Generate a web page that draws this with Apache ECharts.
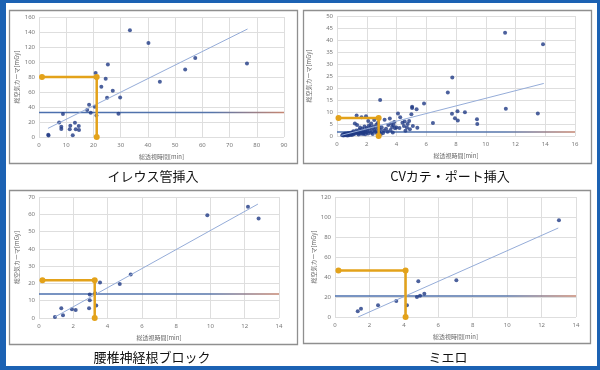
<!DOCTYPE html>
<html><head><meta charset="utf-8">
<script src="https://cdn.jsdelivr.net/npm/echarts@6/dist/echarts.min.js"></script>
<style>html,body{margin:0;padding:0;background:#fff}#c{width:600px;height:370px}</style>
</head><body><div id="c"></div>
<script>
// ---------- data ----------
const titles = ['イレウス管挿入', 'CVカテ・ポート挿入', '腰椎神経根ブロック', 'ミエロ'];
const xName = '総透視時間[min]';
const yName = '総空気カーマ[mGy]';
const xMax = [90, 16, 14, 14];
const xStep = [10, 2, 2, 2];
const yMax = [160, 50, 70, 120];
const yStep = [20, 5, 10, 20];

const ileusPts = [[3.4,3],[3.5,2],[7.4,19.5],[8.2,13.7],[8.2,10.6],[8.8,30.6],[11.3,10.2],[11.5,15],[12.4,2.2],[13.2,19],[13.5,10.2],[14.6,14.6],[14.7,9.3],[17.7,35.9],[18.4,43],[19,32.4],[20.5,40.3],[20.8,85.5],[21.1,78.9],[21.1,28.8],[22.9,67],[24.5,77.6],[25,52.3],[25.3,96.6],[27.1,61.6],[29.2,31],[29.8,52.7],[33.4,142.3],[40.2,125.4],[44.4,73.6],[53.7,90],[57.4,105.5],[76.4,98]];
const cvPts = [[0.35,0.3],[0.4,0.6],[0.45,0.2],[0.5,0.9],[0.5,0.4],[0.55,0.7],[0.6,0.3],[0.6,1.0],[0.65,0.5],[0.7,0.8],[0.7,0.2],[0.75,1.2],[0.8,0.6],[0.8,0.3],[0.85,0.9],[0.9,1.4],[0.9,0.5],[0.95,0.8],[1.0,1.1],[1.0,0.4],
[1.05,1.6],[1.1,0.7],[1.1,2.0],[1.15,1.2],[1.2,5.2],[1.2,0.9],[1.25,1.5],[1.3,2.3],[1.32,8.5],[1.35,4.6],[1.4,1.0],[1.4,1.8],[1.45,0.6],[1.5,2.6],[1.5,1.3],[1.55,3.5],[1.6,0.9],[1.6,2.0],[1.65,7.8],[1.7,1.5],[1.7,3.0],[1.75,0.8],[1.8,2.4],[1.8,1.2],[1.85,4.0],[1.9,2.0],[1.9,0.7],[1.95,8.2],[2.0,3.3],[2.0,1.6],
[2.05,2.8],[2.1,1.0],[2.1,6.2],[2.15,4.4],[2.2,2.2],[2.25,3.7],[2.3,1.4],[2.3,5.2],[2.35,2.9],[2.4,0.8],[2.45,4.0],[2.5,2.5],[2.5,6.7],[2.55,1.8],[2.6,3.4],[2.65,4.8],[2.7,2.1],[2.7,1.0],[2.75,5.5],[2.8,3.0],[2.8,4.2],[2.85,1.5],[2.9,15.0],[2.9,2.5],[2.95,0.8],[3.0,3.6],
[3.1,1.2],[3.15,2.3],[3.2,6.8],[3.3,3.0],[3.4,1.8],[3.45,4.6],[3.55,7.3],[3.6,2.5],[3.65,5.2],[3.7,3.8],[3.75,1.5],[3.8,4.5],[3.85,5.8],[3.9,3.2],[4.0,3.5],
[4.1,9.4],[4.2,3.3],[4.25,7.8],[4.4,5.5],[4.5,4.2],[4.55,6.0],[4.6,2.2],[4.7,3.5],[4.75,5.0],[4.85,6.3],[4.9,2.8],[5.0,9.1],[5.05,12.2],[5.05,11.7],[5.1,4.2],[5.35,11.1],[5.4,3.4],[5.85,13.5],
[6.45,5.4],[7.45,18.1],[7.75,24.4],[7.73,9.3],[8.1,10.3],[8.6,9.9],[7.93,7.4],[8.12,6.5],[9.41,7.0],[9.43,5.0],[11.3,43.0],[11.35,11.4],[13.5,9.4],[13.85,38.2]];
const lumbarPts = [[0.93,0.6],[1.3,5.6],[1.4,1.6],[1.92,5.0],[2.14,4.7],[2.92,5.6],[2.96,10.3],[2.96,13.6],[3.27,14.3],[3.34,7.2],[3.56,20.6],[4.71,19.6],[5.35,25.2],[9.82,59.5],[12.19,64.4],[12.81,57.6]];
const myeloPts = [[1.32,5.7],[1.51,8.3],[2.5,11.7],[3.56,16],[4.18,11.7],[4.76,20],[4.84,35.7],[4.94,21.3],[5.19,23.3],[7.05,36.7],[13.01,96.7]];

// trendline endpoints [[x1,y1],[x2,y2]]
const trendLines = [[[3.3,11.5],[76.6,144]], [[0.3,0.3],[13.9,21.9]], [[0.93,0.6],[12.77,65.9]], [[1.34,0],[12.97,89]]];
// horizontal reference level
const refLevels = [32.6, 1.7, 13.9, 21];
// gold guide: [xStart, level, xCorner]
const guides = [[1.1,80,21.2], [0.1,7.5,2.8], [0.2,21.8,3.25], [0.2,46.5,4.1]];

// ---------- layout ----------
const grids = [
  {left:39, top:17, width:245, height:120},
  {left:337, top:16, width:238, height:120},
  {left:39, top:197, width:240, height:121},
  {left:335, top:197, width:241, height:120}
];
const yNameGap = [19, 25, 19, 4];
const boxes = [[9,10,288,153],[303,10,288,153],[9,190,288,154],[303,190,287,153]];
const titlePos = [[153,176],[450,176],[152,357],[448,357]];
const pointSets = [ileusPts, cvPts, lumbarPts, myeloPts];

const navy = '#1f3a85', gold = '#e3a21a', border = '#1c62b3';
const graphic = [
  {type:'rect', shape:{x:0,y:0,width:6,height:370}, style:{fill:border}},
  {type:'rect', shape:{x:0,y:0,width:600,height:3}, style:{fill:border}},
  {type:'rect', shape:{x:597,y:0,width:3,height:370}, style:{fill:border}},
  {type:'rect', shape:{x:0,y:366,width:600,height:4}, style:{fill:border}}
];
boxes.forEach(b => graphic.push({type:'rect', shape:{x:b[0]+0.5,y:b[1]+0.5,width:b[2],height:b[3]}, style:{fill:'none', stroke:'#8f8f8f', lineWidth:1.3}}));
titles.forEach((t,i) => graphic.push({type:'text', x:titlePos[i][0], y:titlePos[i][1], style:{text:t, align:'center', verticalAlign:'middle', font:'13px "Noto Sans CJK JP"', fill:'#111'}}));

const xAxis = [], yAxis = [], series = [];
for (let i = 0; i < 4; i++) {
  xAxis.push({type:'value', gridIndex:i, min:0, max:xMax[i], interval:xStep[i],
    name:xName, nameLocation:'middle', nameGap:17,
    nameTextStyle:{fontSize:6, color:'#666', fontFamily:'Noto Sans CJK JP'},
    axisLine:{show:false}, axisTick:{show:false},
    axisLabel:{fontSize:6, color:'#777', margin:5},
    splitLine:{show:true, lineStyle:{color:'#dedede', width:1}}});
  yAxis.push({type:'value', gridIndex:i, min:0, max:yMax[i], interval:yStep[i],
    name:yName, nameLocation:'middle', nameGap:yNameGap[i],
    nameTextStyle:{fontSize:6, color:'#666', fontFamily:'Noto Sans CJK JP'},
    axisLine:{show:false}, axisTick:{show:false},
    axisLabel:{fontSize:6, color:'#777', margin:4},
    splitLine:{show:true, lineStyle:{color:'#dedede', width:1}}});
  series.push({type:'line', xAxisIndex:i, yAxisIndex:i, data:[[0,refLevels[i]],[xMax[i],refLevels[i]]],
    symbol:'none', silent:true, z:3,
    lineStyle:{width:1.5, color:new echarts.graphic.LinearGradient(0,0,1,0,[{offset:0,color:'#4a6fae'},{offset:0.7,color:'#5675aa'},{offset:1,color:'#c9866f'}])}});
  series.push({type:'scatter', xAxisIndex:i, yAxisIndex:i, data:pointSets[i], symbol:'circle', symbolSize:4,
    itemStyle:{color:navy}, z:4});
  series.push({type:'line', xAxisIndex:i, yAxisIndex:i, data:trendLines[i], symbol:'none', silent:true, z:5,
    lineStyle:{width:1, color:'#95acd8'}});
  const g = guides[i];
  series.push({type:'line', xAxisIndex:i, yAxisIndex:i, data:[[g[0],g[1]],[g[2],g[1]],[g[2],0]],
    symbol:'circle', symbolSize:6, showSymbol:true, silent:true, z:6,
    itemStyle:{color:gold}, lineStyle:{width:2.5, color:gold}});
}

const chart = echarts.init(document.getElementById('c'), null, {renderer:'canvas'});
chart.setOption({animation:false, backgroundColor:'#fff', grid:grids, xAxis, yAxis, series, graphic,
  textStyle:{fontFamily:'"Noto Sans", "Noto Sans CJK JP", sans-serif'}});
</script></body></html>
